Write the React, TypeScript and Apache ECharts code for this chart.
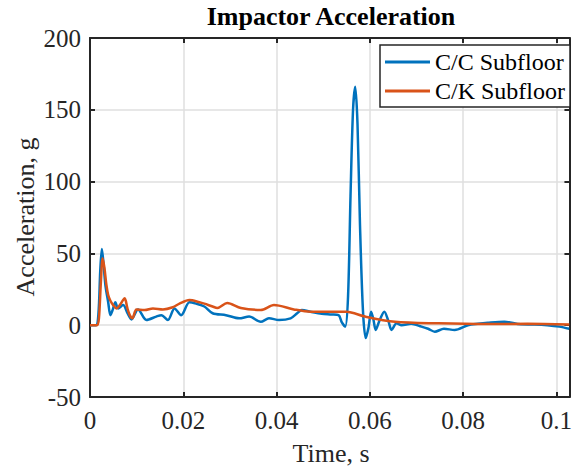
import React, { useEffect, useRef } from "react";
import * as echarts from "echarts";

const xTicks = [0, 0.02, 0.04, 0.06, 0.08, 0.1];
const yTicks = [-50, 0, 50, 100, 150, 200];

const seriesNames = ["C/C Subfloor", "C/K Subfloor"];

const ccTime = [
  0, 0.00128, 0.00181, 0.0022, 0.00254, 0.00284, 0.0033, 0.0039, 0.00437, 0.0049,
  0.00544, 0.00603, 0.0071, 0.0081, 0.00889, 0.0103, 0.0121, 0.0142, 0.0153, 0.0167,
  0.01812, 0.01955, 0.02132, 0.02275, 0.02452, 0.02629, 0.02915, 0.03198, 0.03412, 0.03661,
  0.03838, 0.04051, 0.04301, 0.04441, 0.04542, 0.04727, 0.04968, 0.05181, 0.0533, 0.054,
  0.05473, 0.05533, 0.05586, 0.0564, 0.05687, 0.05736, 0.05789, 0.05853, 0.05913, 0.0597,
  0.06028, 0.06077, 0.06126, 0.06205, 0.06311, 0.06397, 0.06467, 0.06574, 0.0668, 0.06887,
  0.07107, 0.0725, 0.07392, 0.0759, 0.07819, 0.08102, 0.08316, 0.08529, 0.08885, 0.09239,
  0.09531, 0.09808, 0.10064, 0.10277,
];
const ccAccel = [
  0, 0, 8, 38, 53, 45, 28, 16, 7, 11,
  16, 11.7, 14, 8, 4, 11, 3.6, 6, 7, 3.6,
  11.7, 7, 16, 15, 13, 8.3, 7, 4.8, 6, 2.4,
  4.8, 3.6, 4.8, 8.3, 10.6, 9.4, 8, 7.5, 7, 2,
  -1, 20, 90, 150, 166, 140, 70, 10, -9, -2,
  9.4, 4, -3.3, 3, 9.4, 3, -3.3, 1.3, 0, 1,
  -1, -2.5, -4.5, -2.5, -3.3, 0, 1, 1.7, 2.4, 0.6,
  0.5, 0, -1, -2.5,
];

const ckTime = [
  0, 0.00149, 0.00192, 0.0023, 0.00271, 0.00309, 0.00352, 0.0039, 0.00437, 0.00497,
  0.00569, 0.0064, 0.0071, 0.00746, 0.008, 0.00853, 0.0091, 0.00996, 0.01173, 0.0135,
  0.01563, 0.01776, 0.01919, 0.02132, 0.02345, 0.02452, 0.02629, 0.02729, 0.02942, 0.03235,
  0.03661, 0.03945, 0.04371, 0.04727, 0.05367, 0.05501, 0.059, 0.0654, 0.07463, 0.08529,
  0.09382, 0.10277,
];
const ckAccel = [
  0, 0, 5, 28, 46.6, 40, 28, 21, 17, 14,
  11.7, 14, 17.5, 18.7, 12, 7, 4.8, 11, 10.6, 11.7,
  11, 12.5, 15, 17.5, 16, 15, 13, 12, 15.5, 12,
  10.6, 14, 11, 9.4, 9.4, 9.4, 6, 2.4, 1.3, 0.8,
  1, 0.5,
];

const X_MAX = 0.1028;
const FONT = "'Liberation Serif', 'Times New Roman', serif";
const AXIS_COLOR = "#262626";
const GRID_COLOR = "#dfdfdf";

function zip(t: number[], v: number[]) {
  return t.map((x, i) => [x, v[i]]);
}

function xLabel(v: number) {
  const k = v / 0.02;
  if (Math.abs(k - Math.round(k)) > 1e-6) return "";
  return String(parseFloat(v.toFixed(4)));
}

export default function App() {
  const ref = useRef<HTMLDivElement>(null);
  useEffect(() => {
    document.body.style.margin = "0";
    if (!ref.current) return;
    const chart = echarts.init(ref.current, null, { renderer: "svg" });
    const common = {
      axisLine: { show: true, onZero: false, lineStyle: { color: AXIS_COLOR, width: 2 } },
      axisTick: { show: true, inside: true, length: 5, lineStyle: { color: AXIS_COLOR, width: 2 } },
    };
    chart.setOption({
      animation: false,
      backgroundColor: "#ffffff",
      grid: { left: 90, right: 3, top: 38, bottom: 70 },
      legend: {
        left: 380,
        top: 45,
        orient: "vertical",
        data: seriesNames,
        icon: "rect",
        itemWidth: 45,
        itemHeight: 3,
        itemGap: 5,
        itemTextGap: 3,
        padding: [5, 5, 4, 5],
        borderColor: AXIS_COLOR,
        borderWidth: 1.5,
        backgroundColor: "#ffffff",
        textStyle: { fontFamily: FONT, fontSize: 24, color: "#000000" },
        selectedMode: false,
      },
      xAxis: [
        {
          type: "value",
          min: 0,
          max: X_MAX,
          interval: 0.02,
          position: "bottom",
          ...common,
          axisLabel: {
            formatter: xLabel,
            fontFamily: FONT,
            fontSize: 25,
            color: "#262626",
            margin: 11,
            showMaxLabel: false,
          },
          splitLine: { show: true, lineStyle: { color: GRID_COLOR, width: 1.5 } },
        },
        {
          type: "value",
          min: 0,
          max: X_MAX,
          interval: 0.02,
          position: "top",
          ...common,
          axisLabel: { show: false },
          splitLine: { show: false },
        },
      ],
      yAxis: [
        {
          type: "value",
          min: yTicks[0],
          max: yTicks[yTicks.length - 1],
          interval: 50,
          position: "left",
          ...common,
          axisLabel: {
            fontFamily: FONT,
            fontSize: 25,
            color: "#262626",
            margin: 9,
          },
          splitLine: { show: true, lineStyle: { color: GRID_COLOR, width: 1.5 } },
        },
        {
          type: "value",
          min: yTicks[0],
          max: yTicks[yTicks.length - 1],
          interval: 50,
          position: "right",
          ...common,
          axisLabel: { show: false },
          splitLine: { show: false },
        },
      ],
      series: [
        {
          name: seriesNames[0],
          type: "line",
          data: zip(ccTime, ccAccel),
          showSymbol: false,
          symbol: "none",
          smooth: 0.3,
          lineStyle: { color: "#0072BD", width: 2.5 },
          itemStyle: { color: "#0072BD" },
          z: 3,
        },
        {
          name: seriesNames[1],
          type: "line",
          data: zip(ckTime, ckAccel),
          showSymbol: false,
          symbol: "none",
          smooth: 0.3,
          lineStyle: { color: "#D95319", width: 2.5 },
          itemStyle: { color: "#D95319" },
          z: 4,
        },
      ],
      graphic: [
        {
          type: "text",
          x: 331,
          y: 16,
          style: {
            text: "Impactor Acceleration",
            font: `bold 26px ${FONT}`,
            fill: "#000000",
            align: "center",
            verticalAlign: "middle",
          },
        },
        {
          type: "text",
          x: 331,
          y: 453,
          style: {
            text: "Time, s",
            font: `26px ${FONT}`,
            fill: "#262626",
            align: "center",
            verticalAlign: "middle",
          },
        },
        {
          type: "text",
          x: 25,
          y: 217,
          rotation: Math.PI / 2,
          style: {
            text: "Acceleration, g",
            font: `26px ${FONT}`,
            fill: "#262626",
            align: "center",
            verticalAlign: "middle",
          },
        },
      ],
    });
    return () => chart.dispose();
  }, []);
  return <div ref={ref} style={{ width: 575, height: 467 }} />;
}
